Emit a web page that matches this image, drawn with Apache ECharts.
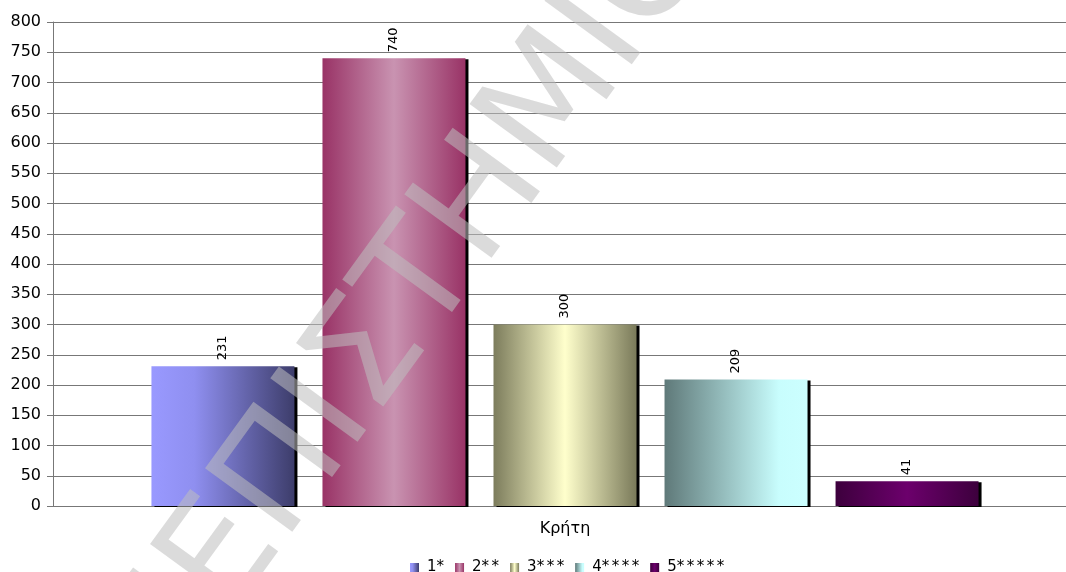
<!DOCTYPE html>
<html>
<head>
<meta charset="utf-8">
<script src="https://cdn.jsdelivr.net/npm/echarts@6/dist/echarts.min.js"></script>
<style>
html,body{margin:0;padding:0;background:#fff;}
#chart{width:1066px;height:572px;}
</style>
</head>
<body>
<div id="chart"></div>
<script>
const categories = ['Κρήτη'];
const seriesNames = ['1*', '2**', '3***', '4****', '5*****'];
const seriesValues = [[231], [740], [300], [209], [41]];
const yTicks = { min: 0, max: 800, interval: 50 };
const watermarkText = 'ΠΑΝΕΠΙΣΤΗΜΙΟ';

const gradStops = [
  [[0, '#9999ff'], [0.3, '#8f8ff0'], [1, '#3d3d6b']],
  [[0, '#993366'], [0.5, '#c993b1'], [1, '#993366']],
  [[0, '#7c7c5c'], [0.5, '#ffffcc'], [1, '#7a7a5a']],
  [[0, '#5f7979'], [0.8, '#c8fdfd'], [1, '#ccffff']],
  [[0, '#3d003d'], [0.5, '#6c006c'], [1, '#3d003d']]
];
function grad(stops) {
  return new echarts.graphic.LinearGradient(0, 0, 1, 0,
    stops.map(s => ({ offset: s[0], color: s[1] })));
}

const font = 'DejaVu Sans, Verdana, sans-serif';
const chart = echarts.init(document.getElementById('chart'));
const series = seriesNames.map((name, i) => ({
  name: name,
  type: 'bar',
  data: seriesValues[i],
  barWidth: 143,
  barGap: '19.6%',
  itemStyle: {
    color: grad(gradStops[i]),
    shadowColor: '#000',
    shadowBlur: 0,
    shadowOffsetX: 3,
    shadowOffsetY: 1
  },
  label: {
    show: true,
    position: 'top',
    rotate: 90,
    align: 'left',
    verticalAlign: 'middle',
    distance: 6,
    color: '#000',
    fontFamily: font,
    fontSize: 13
  }
}));

const wmAngle = 54 * Math.PI / 180;

function legendFmt(name) {
  return name.split('').map((c, k) => {
    if (c === '*') return '{a|*}';
    return (k === 0 ? '{f|' : '{d|') + c + '}';
  }).join('');
}

chart.setOption({
  animation: false,
  backgroundColor: '#fff',
  grid: { left: 53, width: 1024, top: 22, bottom: 66, containLabel: false, outerBoundsMode: 'none' },
  legend: {
    left: 405,
    top: 555,
    itemWidth: 9,
    itemHeight: 9,
    itemGap: 11,
    icon: 'rect',
    formatter: legendFmt,
    textStyle: {
      fontFamily: font, fontSize: 15, color: '#000',
      rich: {
        f: { fontFamily: font, fontSize: 15, color: '#000', padding: [0, 0, 0, 3] },
        d: { fontFamily: font, fontSize: 15, color: '#000' },
        a: { fontFamily: font, fontSize: 15, color: '#000', width: 10 }
      }
    },
    data: seriesNames
  },
  xAxis: {
    type: 'category',
    data: categories,
    axisLine: { show: true, lineStyle: { color: '#777', width: 1 } },
    axisTick: { show: false },
    axisLabel: { color: '#000', fontFamily: font, fontSize: 16, margin: 15 }
  },
  yAxis: {
    type: 'value',
    min: yTicks.min,
    max: yTicks.max,
    interval: yTicks.interval,
    axisLine: { show: true, lineStyle: { color: '#777', width: 1 } },
    axisTick: { show: true, length: 6, lineStyle: { color: '#777' } },
    axisLabel: { color: '#000', fontFamily: font, fontSize: 16, margin: 12 },
    splitLine: { show: true, lineStyle: { color: '#777', width: 1 } }
  },
  graphic: [{
    type: 'text',
    z: 100,
    x: 347,
    y: 391,
    rotation: wmAngle,
    silent: true,
    style: {
      text: watermarkText,
      font: '148px DejaVu Sans',
      fill: 'rgba(190,190,190,0.55)',
      textAlign: 'center',
      textVerticalAlign: 'middle'
    }
  }],
  series: series
});
</script>
</body>
</html>
